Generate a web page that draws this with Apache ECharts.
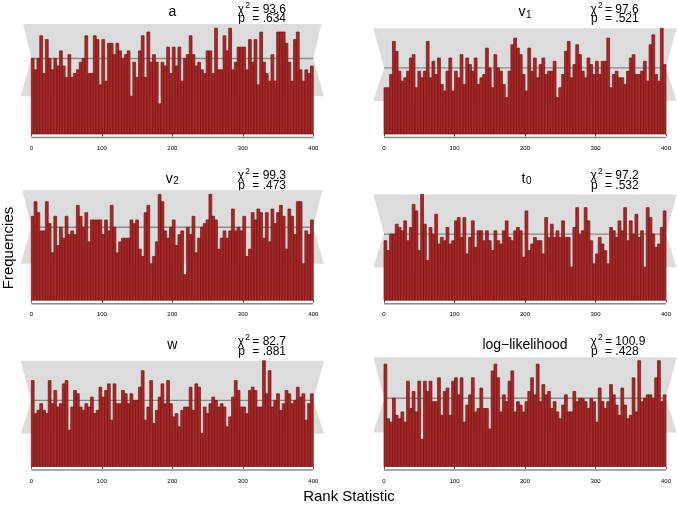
<!DOCTYPE html>
<html><head><meta charset="utf-8">
<script src="https://cdn.jsdelivr.net/npm/echarts@6/dist/echarts.min.js"></script>
<style>html,body{margin:0;padding:0;background:#fff}#c{width:677px;height:505px}</style>
</head><body><div id="c"></div>
<script>
// ---- data ----
const rankTicks = [0, 100, 200, 300, 400];
const binWidth = 4;
const expectedCount = 20;
const bandLower = 10;
const bandUpper = 32;

const aCounts = [20,17,20,26,16,25,20,17,20,18, 22,18,15,21,15,16,17,19,20,26, 16,16,26,25,13,25,14,24,24,21, 24,22,20,21,22,10,19,15,22,26, 15,27,19,21,19,8,19,18,23,16,
                 23,18,23,14,20,21,26,21,18,19, 17,16,22,22,16,28,17,17,26,22, 28,17,19,23,23,23,17,25,19,25, 13,27,19,16,14,21,14,27,27,27, 24,19,14,25,27,17,14,17,16,18];
const v1Counts = [14,14,18,28,25,19,16,17,19,23, 24,14,19,17,19,28,17,22,18,23, 15,13,19,23,13,19,17,24,15,23, 21,19,23,15,17,18,26,20,14,24, 20,19,15,11,19,27,29,26,24,18,
                  13,26,19,23,17,21,23,18,19,19, 22,11,14,18,25,28,17,21,27,24, 19,17,23,21,18,22,18,22,22,29, 14,18,19,17,17,15,19,23,24,18, 18,19,22,16,27,30,18,16,32,21];
const v2Counts = [23,27,24,19,19,27,21,13,23,15, 20,17,23,18,19,18,26,23,20,24, 16,22,22,22,22,18,22,19,26,20, 13,16,17,17,17,22,21,22,14,12, 24,26,10,12,16,29,27,19,17,20,
                  22,15,18,19,7,20,18,23,13,17, 20,21,22,29,23,22,14,17,19,17, 19,25,19,20,19,23,12,14,24,22, 25,24,17,24,16,25,21,24,26,23, 14,25,23,18,27,27,10,19,18,22];
const t0Counts = [18,15,20,20,23,22,21,24,18,22, 29,27,15,32,23,12,22,20,26,17, 19,18,22,17,18,24,25,19,25,14, 19,24,16,21,21,18,21,18,15,21, 18,17,21,24,19,18,21,22,21,13,
                  27,15,17,19,18,18,14,25,19,23, 19,21,19,24,19,19,10,22,28,20, 21,28,24,18,11,14,19,17,15,11, 22,21,19,24,21,28,18,24,20,26, 19,21,10,28,25,20,16,17,22,27];
const wCounts = [26,16,17,19,17,16,26,19,23,18, 19,25,26,11,18,23,22,18,17,19, 18,21,16,17,24,21,23,25,14,25, 19,19,23,22,19,22,20,20,24,29, 14,18,26,13,17,21,25,19,26,19,
                 15,16,12,17,18,18,24,17,25,24, 10,18,16,19,21,20,18,19,18,12, 15,21,26,23,18,18,16,23,24,23, 18,18,32,22,29,18,20,22,17,19, 23,22,19,20,24,21,22,14,19,22];
const loglikCounts = [30,14,13,20,15,14,16,13,25,17, 22,16,25,8,25,22,25,19,19,26, 15,22,23,15,25,26,21,26,13,18, 21,26,16,17,23,17,17,11,28,30, 26,16,21,19,25,28,16,19,18,16,
                      19,22,26,21,30,19,24,21,22,17, 19,16,14,18,21,16,16,22,19,20, 20,19,17,20,19,13,23,19,17,19, 24,21,18,15,23,18,14,15,26,16, 31,19,20,21,21,20,26,31,19,21];

const titleMain = ['a', 'v', 'v', 't', 'w', 'log\u2212likelihood'];
const titleSub  = ['', '1', '2', '0', '', ''];
const chiSq  = ['93.6', '97.6', '99.3', '97.2', '82.7', '100.9'];
const pVals  = ['.634', '.521', '.473', '.532', '.881', '.428'];
const allCounts = [aCounts, v1Counts, v2Counts, t0Counts, wCounts, loglikCounts];

// ---- layout ----
const colX0 = [31.3, 384];
const pxPerUnit = 282 / 400;
const pad = 15;
const rowTop = [24, 190.2, 356.5];
const plotH = 110;
const FONT = '"Liberation Sans", Arial, Helvetica, sans-serif';

const grids = [], xAxes = [], yAxes = [], series = [], graphic = [];

function txt(x, y, text, size, align, vAlign, extra) {
  return Object.assign({
    type: 'text', x: x, y: y, silent: true,
    style: { text: text, font: size + 'px ' + FONT, fill: '#000',
             textAlign: align, textVerticalAlign: vAlign, align: align, verticalAlign: vAlign }
  }, extra || {});
}

allCounts.forEach(function (counts, k) {
  const col = k % 2, row = Math.floor(k / 2);
  const x0 = colX0[col];
  const top = rowTop[row];
  const ymax = 1.04 * Math.max.apply(null, counts);
  grids.push({ left: x0 - pad * pxPerUnit, top: top, width: (400 + 2 * pad) * pxPerUnit, height: plotH });
  xAxes.push({
    type: 'value', gridIndex: k, min: -pad, max: 400 + pad, offset: 3.5,
    axisLine: { show: false },
    axisTick: { show: true, customValues: rankTicks, length: 2.5, lineStyle: { color: '#555', width: 1 } },
    axisLabel: { customValues: rankTicks, fontSize: 6, margin: 8, color: '#000', fontFamily: 'Liberation Sans' },
    splitLine: { show: false }
  });
  yAxes.push({ type: 'value', gridIndex: k, min: 0, max: ymax, show: false });

  series.push({
    type: 'custom', xAxisIndex: k, yAxisIndex: k, silent: true, z: 1,
    data: [[0, expectedCount]],
    renderItem: function (params, api) {
      const up = Math.min(bandUpper, ymax);
      const f = (up - expectedCount) / (bandUpper - expectedCount);
      const pts = [
        [-pad, bandLower], [0, expectedCount], [-pad * f, up],
        [400 + pad * f, up], [400, expectedCount], [400 + pad, bandLower]
      ].map(function (p) { return api.coord(p); });
      return { type: 'polygon', shape: { points: pts }, style: { fill: '#DCDCDC' } };
    }
  });
  series.push({
    type: 'custom', xAxisIndex: k, yAxisIndex: k, silent: true, z: 2,
    data: [[0, expectedCount]],
    renderItem: function (params, api) {
      const p0 = api.coord([0, expectedCount]), p1 = api.coord([400, expectedCount]);
      return { type: 'line', shape: { x1: p0[0], y1: p0[1], x2: p1[0], y2: p1[1] },
               style: { stroke: '#8A8A8A', lineWidth: 1.4 } };
    }
  });
  series.push({
    type: 'custom', xAxisIndex: k, yAxisIndex: k, silent: true, z: 3,
    data: counts.map(function (c, i) { return [i * binWidth, c]; }),
    encode: { x: 0, y: 1 },
    renderItem: function (params, api) {
      const xs = api.value(0), v = api.value(1);
      const p0 = api.coord([xs, 0]), p1 = api.coord([xs + binWidth, v]);
      return { type: 'rect', shape: { x: p0[0], y: p1[1], width: p1[0] - p0[0], height: p0[1] - p1[1] },
               style: { fill: '#A52A2A', stroke: '#7A0E0E', lineWidth: 0.7 } };
    }
  });
  series.push({
    type: 'custom', xAxisIndex: k, yAxisIndex: k, silent: true, z: 3,
    data: [[0, 0]],
    renderItem: function (params, api) {
      const p0 = api.coord([rankTicks[0], 0]), p1 = api.coord([rankTicks[rankTicks.length - 1], 0]);
      return { type: 'line', shape: { x1: p0[0], y1: p0[1] + 3.5, x2: p1[0], y2: p1[1] + 3.5 },
               style: { stroke: '#8A8A8A', lineWidth: 1.5 } };
    }
  });

  const cx = x0 + 141;
  if (titleSub[k]) {
    graphic.push(txt(cx + 0.5, top - 11.5, titleMain[k], 14, 'right', 'middle'));
    graphic.push(txt(cx + 1, top - 8.5, titleSub[k], 10, 'left', 'middle'));
  } else {
    graphic.push(txt(cx, top - 11.5, titleMain[k], 14, 'center', 'middle'));
  }
  graphic.push(txt(x0 + 206.5, top - 14.5, '\u03C7', 12, 'left', 'middle'));
  graphic.push(txt(x0 + 214, top - 18.5, '2', 8.5, 'left', 'middle'));
  graphic.push(txt(x0 + 221, top - 14.5, '= ' + chiSq[k], 12, 'left', 'middle'));
  graphic.push(txt(x0 + 207, top - 5, 'p', 12, 'left', 'middle'));
  graphic.push(txt(x0 + 221, top - 5, '= ' + pVals[k], 12, 'left', 'middle'));
});

graphic.push(txt(9, 248, 'Frequencies', 15, 'center', 'middle', { rotation: Math.PI / 2 }));
graphic.push(txt(349, 497, 'Rank Statistic', 15, 'center', 'middle'));

const chart = echarts.init(document.getElementById('c'), null, { renderer: 'canvas' });
chart.setOption({
  animation: false,
  backgroundColor: '#ffffff',
  grid: grids, xAxis: xAxes, yAxis: yAxes, series: series, graphic: graphic
});
</script>
</body></html>
